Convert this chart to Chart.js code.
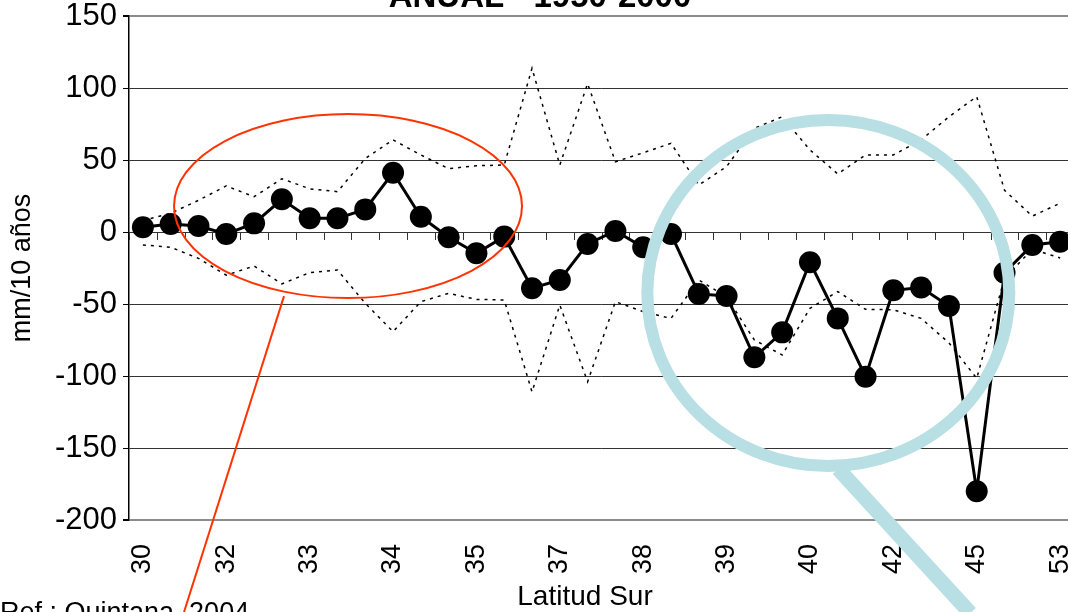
<!DOCTYPE html>
<html>
<head>
<meta charset="utf-8">
<script src="https://cdn.jsdelivr.net/npm/chart.js@4.4.0/dist/chart.umd.min.js"></script>
<style>
html, body { margin: 0; padding: 0; background: #fff; overflow: hidden; }
#wrap { position: absolute; left: 0; top: 0; width: 1074px; height: 612px; }
</style>
</head>
<body>
<div id="wrap"><canvas id="chart" width="1074" height="612"></canvas></div>
<script>
// categorias (latitud sur), solo cada tercera estacion lleva etiqueta
const latLabels = ['30','','','32','','','33','','','34','','','35','','','37','','',
                   '38','','','39','','','40','','','42','','','45','','','53'];

// tendencia anual mm/10 años
const trend = [3.3, 5.6, 4.2, -1.4, 6, 22.7, 9.5, 9.5, 15.7, 41.2, 10.6, -3.7, -14.8, -3.2,
               -39, -33.3, -8.3, 0.7, -10.6, -1.4, -43, -44.4, -87, -69.7, -21, -60,
               -100.5, -40.5, -38.5, -51.4, -180, -28.3, -9, -6.7];

// limites de significancia (punteados)
const upper = [8, 13, 22, 32, 24.5, 37, 30, 28, 51, 64, 53.5, 44, 46, 46.5, 113.7, 46.5,
               103, 48.8, 55, 61.6, 32.6, 45.4, 72, 80, 57, 40.3, 53.5, 53.5, 64, 80, 94,
               29, 11, 20];
const lower = [-9, -10.6, -18.3, -30, -23.6, -36, -28.2, -26.4, -49.5, -69.2, -48.4, -42.6,
               -46.8, -47.2, -111, -50.7, -104, -48.4, -55.3, -60, -33.3, -45, -75, -85.4,
               -53, -41.4, -53.7, -54, -60, -77, -101.6, -32, -12, -18];

const yMin = -200, yMax = 150, yStep = 50;

const FONT = "'Liberation Sans', Arial, sans-serif";

// marcas del eje X sobre la linea de cero + anotaciones
const extras = {
    id: 'extras',
    beforeDatasetsDraw(chart) {
        const {ctx, scales: {x, y}} = chart;
        const y0 = y.getPixelForValue(0);
        const band = (x.right - x.left) / latLabels.length;
        ctx.save();
        ctx.strokeStyle = '#333';
        ctx.lineWidth = 1;
        for (let k = 0; k <= latLabels.length; k++) {
            const px = Math.round(x.left + k * band) + 0.5;
            ctx.beginPath();
            ctx.moveTo(px, y0);
            ctx.lineTo(px, y0 + 8);
            ctx.stroke();
        }
        ctx.restore();
    },
    afterDatasetsDraw(chart) {
        const {ctx, scales: {x, y}} = chart;
        ctx.save();

        // elipse roja
        const ex = x.getPixelForValue(7.38), ey = y.getPixelForValue(18);
        ctx.strokeStyle = '#ff3300';
        ctx.lineWidth = 2;
        ctx.beginPath();
        ctx.ellipse(ex, ey, 174, 92, 0, 0, Math.PI * 2);
        ctx.stroke();
        ctx.beginPath();
        ctx.moveTo(ex - 64, ey + 90);
        ctx.lineTo(ex - 164, 612);
        ctx.stroke();

        // lupa celeste
        const cx = x.getPixelForValue(24.66), cy = y.getPixelForValue(-42.4);
        ctx.strokeStyle = '#b8dfe3';
        ctx.lineWidth = 12;
        ctx.beginPath();
        ctx.ellipse(cx, cy, 181, 173, 0, 0, Math.PI * 2);
        ctx.stroke();
        ctx.lineWidth = 15;
        ctx.beginPath();
        ctx.moveTo(cx + 10, cy + 176);
        ctx.lineTo(cx + 142, cy + 320);
        ctx.stroke();

        // titulos y referencia
        ctx.fillStyle = '#000';
        ctx.font = 'bold 33px ' + FONT;
        ctx.textAlign = 'center';
        ctx.textBaseline = 'alphabetic';
        ctx.fillText('ANUAL - 1950-2000', 540, 7);
        ctx.font = '28px ' + FONT;
        ctx.textBaseline = 'middle';
        ctx.fillText('Latitud Sur', 585, 597);
        ctx.font = '27px ' + FONT;
        ctx.textAlign = 'left';
        ctx.textBaseline = 'alphabetic';
        ctx.fillText('Ref.: Quintana, 2004', 0, 621);

        ctx.restore();
    }
};

new Chart(document.getElementById('chart'), {
    type: 'line',
    data: {
        labels: latLabels,
        datasets: [
            {
                data: trend,
                borderColor: '#000',
                borderWidth: 3,
                pointRadius: 11,
                pointBackgroundColor: '#000',
                pointBorderWidth: 0,
                tension: 0
            },
            {
                data: upper,
                borderColor: '#000',
                borderWidth: 1.5,
                borderDash: [3, 5],
                pointRadius: 0,
                tension: 0
            },
            {
                data: lower,
                borderColor: '#000',
                borderWidth: 1.5,
                borderDash: [3, 5],
                pointRadius: 0,
                tension: 0
            }
        ]
    },
    options: {
        responsive: false,
        animation: false,
        layout: { autoPadding: false, padding: { top: 16, right: 0, bottom: 0, left: 0 } },
        plugins: {
            legend: { display: false },
            tooltip: { enabled: false }
        },
        scales: {
            x: {
                offset: true,
                grid: { display: false, drawTicks: false },
                border: { display: false },
                ticks: {
                    autoSkip: false,
                    minRotation: 90,
                    maxRotation: 90,
                    padding: 24,
                    color: '#000',
                    font: { family: FONT, size: 27 }
                },
                afterFit: s => {
                    s.height = 92;
                    s.paddingLeft = 0;
                    s.paddingRight = 0;
                }
            },
            y: {
                min: yMin,
                max: yMax,
                ticks: {
                    stepSize: yStep,
                    padding: 6,
                    color: '#000',
                    font: { family: FONT, size: 31 }
                },
                grid: {
                    color: c => (c.tick && (c.tick.value === yMax || c.tick.value === yMin)) ? '#8c8c8c' : '#333',
                    lineWidth: c => (c.tick && (c.tick.value === yMax || c.tick.value === yMin)) ? 2 : 1,
                    tickLength: 6,
                    tickColor: '#000'
                },
                border: { color: '#000', width: 1.5 },
                title: {
                    display: true,
                    text: 'mm/10 años',
                    color: '#000',
                    padding: { top: 6, bottom: 0 },
                    font: { family: FONT, size: 27 }
                },
                afterFit: s => {
                    s.width = 129;
                    s.paddingTop = 0;
                    s.paddingBottom = 0;
                }
            }
        }
    },
    plugins: [extras]
});
</script>
</body>
</html>
